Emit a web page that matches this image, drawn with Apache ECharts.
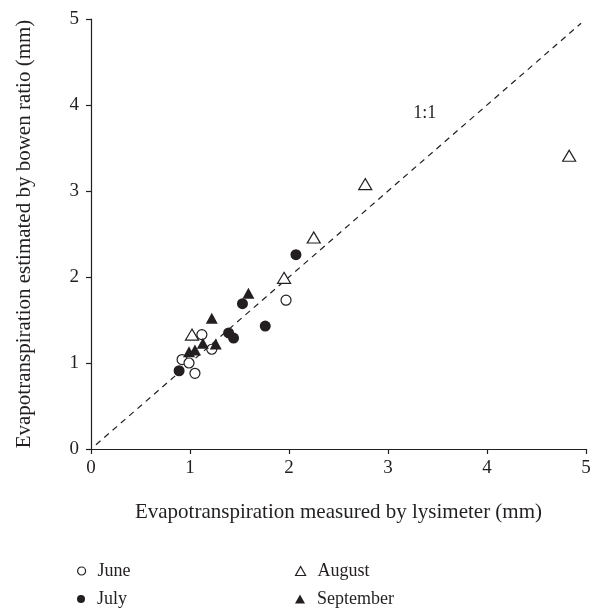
<!DOCTYPE html>
<html>
<head>
<meta charset="utf-8">
<script src="https://cdn.jsdelivr.net/npm/echarts@6/dist/echarts.min.js"></script>
<style>
  html, body { margin: 0; padding: 0; background: #fff; }
  #chart { width: 600px; height: 608px; }
</style>
</head>
<body>
<div id="chart"></div>
<script>
// Daily evapotranspiration: lysimeter (x) vs Bowen ratio estimate (y), mm
const juneX = [0.92, 0.99, 1.05, 1.12, 1.22, 1.97];
const juneY = [1.04, 1.00, 0.88, 1.33, 1.16, 1.73];
const julyX = [0.89, 1.39, 1.44, 1.53, 1.76, 2.07];
const julyY = [0.91, 1.35, 1.29, 1.69, 1.43, 2.26];
const augustX = [1.02, 1.95, 2.25, 2.77, 4.83];
const augustY = [1.33, 1.99, 2.46, 3.08, 3.41];
const septemberX = [0.99, 1.05, 1.13, 1.22, 1.26, 1.59];
const septemberY = [1.13, 1.15, 1.23, 1.52, 1.22, 1.81];
const oneToOne = [[0.05, 0.05], [4.95, 4.95]];
const oneToOneLabel = [3.37, 3.9];
const xTicks = [0, 1, 2, 3, 4, 5];
const yTicks = [0, 1, 2, 3, 4, 5];

const ink = '#231f20';
const serif = '"Liberation Serif", "DejaVu Serif", serif';
const pairs = (xs, ys) => xs.map((x, i) => [x, ys[i]]);

const chart = echarts.init(document.getElementById('chart'), null, { renderer: 'canvas' });

const openStyle = { color: '#fff', borderColor: ink, borderWidth: 1.2, opacity: 1 };
const filledStyle = { color: ink, borderColor: ink, borderWidth: 0, opacity: 1 };
const legendText = { fontFamily: serif, fontSize: 18, color: ink };

// one legend entry per block so the 2x2 key sits where it should
function legendEntry(name, icon, open, left, top, w, h, padLeft) {
  return {
    left: left, top: top, itemWidth: w, itemHeight: h,
    selectedMode: false,
    textStyle: Object.assign({ padding: [0, 0, 0, padLeft] }, legendText),
    data: [{
      name: name, icon: icon,
      itemStyle: open ? { color: '#fff', borderColor: ink, borderWidth: 1.2 }
                      : { color: ink, borderWidth: 0 }
    }]
  };
}

chart.setOption({
  animation: false,
  backgroundColor: '#fff',
  textStyle: { fontFamily: serif, color: ink },
  grid: { left: 91, right: 14, top: 19, bottom: 159 },
  xAxis: {
    type: 'value',
    min: xTicks[0], max: xTicks[xTicks.length - 1], interval: 1,
    name: 'Evapotranspiration measured by lysimeter (mm)',
    nameLocation: 'middle', nameGap: 53,
    nameTextStyle: { fontFamily: serif, fontSize: 21, color: ink },
    axisLine: { lineStyle: { color: ink, width: 1.2 } },
    axisTick: { inside: false, length: 5, lineStyle: { color: ink, width: 1.2 } },
    axisLabel: { fontFamily: serif, fontSize: 19, color: ink, margin: 10 },
    splitLine: { show: false }
  },
  yAxis: {
    type: 'value',
    min: yTicks[0], max: yTicks[yTicks.length - 1], interval: 1,
    name: 'Evapotranspiration estimated by bowen ratio (mm)',
    nameLocation: 'middle', nameGap: 56,
    nameTextStyle: { fontFamily: serif, fontSize: 21, color: ink },
    axisLine: { show: true, lineStyle: { color: ink, width: 1.2 } },
    axisTick: { show: true, inside: false, length: 5, lineStyle: { color: ink, width: 1.2 } },
    axisLabel: { fontFamily: serif, fontSize: 19, color: ink, margin: 12 },
    splitLine: { show: false }
  },
  legend: [
    legendEntry('June', 'circle', true, 72, 557, 22, 8, 0),
    legendEntry('July', 'circle', false, 72, 585, 22, 8, 0),
    legendEntry('August', 'triangle', true, 290, 557, 10, 9, 7),
    legendEntry('September', 'triangle', false, 290, 585, 10, 9, 7)
  ],
  series: [
    {
      name: '1:1', type: 'line', data: oneToOne, symbol: 'none',
      lineStyle: { color: ink, width: 1.2, type: [6, 5] },
      silent: true, z: 1
    },
    {
      name: '1:1 label', type: 'scatter', data: [oneToOneLabel], symbolSize: 0,
      itemStyle: { opacity: 1 },
      label: { show: true, formatter: '1:1', position: 'inside', fontFamily: serif, fontSize: 18, color: ink },
      silent: true
    },
    {
      name: 'June', type: 'scatter', data: pairs(juneX, juneY),
      symbol: 'circle', symbolSize: 10, itemStyle: openStyle, z: 3
    },
    {
      name: 'July', type: 'scatter', data: pairs(julyX, julyY),
      symbol: 'circle', symbolSize: 11, itemStyle: filledStyle, z: 3
    },
    {
      name: 'August', type: 'scatter', data: pairs(augustX, augustY),
      symbol: 'triangle', symbolSize: [13, 11], itemStyle: openStyle, z: 3
    },
    {
      name: 'September', type: 'scatter', data: pairs(septemberX, septemberY),
      symbol: 'triangle', symbolSize: [12, 11], itemStyle: filledStyle, z: 3
    }
  ]
});
</script>
</body>
</html>
